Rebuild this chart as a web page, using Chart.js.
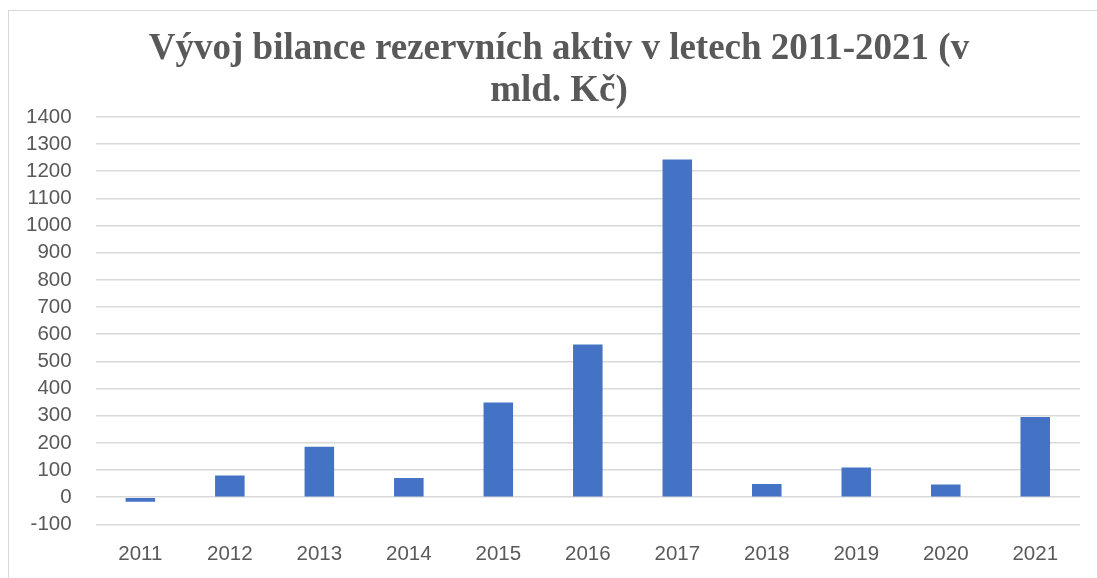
<!DOCTYPE html>
<html>
<head>
<meta charset="utf-8">
<script src="https://cdn.jsdelivr.net/npm/chart.js@4"></script>
<style>
  html, body { margin: 0; padding: 0; background: #fff; }
  #wrap { position: relative; width: 1097px; height: 578px; overflow: hidden; }
  #frame { position: absolute; left: 8px; top: 10px; width: 1200px; height: 700px;
           border: 1.5px solid #d9d9d9; box-sizing: border-box; }
  canvas { position: absolute; left: 0; top: 0; }
</style>
</head>
<body>
<div id="wrap">
  <div id="frame"></div>
  <canvas id="chart" width="1097" height="578"></canvas>
</div>
<script>
// Data
const years = ['2011', '2012', '2013', '2014', '2015', '2016', '2017', '2018', '2019', '2020', '2021'];
const bilance = [-17, 80, 186, 71, 349, 562, 1243, 49, 109, 47, 295];
const titleLines = ['Vývoj bilance rezervních aktiv v letech 2011-2021 (v', 'mld. Kč)'];

// posun titulku doprava (v originálu je vycentrovaný na celou plochu grafu)
const shiftTitle = {
    id: 'shiftTitle',
    afterLayout(chart) {
        if (chart.titleBlock) {
            chart.titleBlock.left += 18;
            chart.titleBlock.right += 18;
        }
    }
};

const ctx = document.getElementById('chart').getContext('2d');
new Chart(ctx, {
    type: 'bar',
    data: {
        labels: years,
        datasets: [{
            label: 'Bilance',
            data: bilance,
            backgroundColor: '#4472C4',
            barPercentage: 0.33,
            categoryPercentage: 1
        }]
    },
    plugins: [shiftTitle],
    options: {
        responsive: false,
        animation: false,
        layout: { padding: { left: 2, right: 17, top: 10, bottom: -7 } },
        plugins: {
            legend: { display: false },
            tooltip: { enabled: false },
            title: {
                display: true,
                text: titleLines,
                color: '#595959',
                font: { family: '"Liberation Serif", "Times New Roman", serif', size: 37, weight: 'bold', lineHeight: 1.12 },
                padding: { top: 19, bottom: 5 }
            }
        },
        scales: {
            x: {
                grid: { display: false, drawTicks: false },
                border: { display: false },
                ticks: {
                    color: '#595959',
                    font: { family: '"Liberation Sans", Arial, sans-serif', size: 20.5 },
                    padding: 18,
                    maxRotation: 0,
                    autoSkip: false
                }
            },
            y: {
                min: -100,
                max: 1400,
                grid: { color: '#d9d9d9', lineWidth: 1.5, drawTicks: false },
                border: { display: false },
                ticks: {
                    stepSize: 100,
                    autoSkip: false,
                    color: '#595959',
                    font: { family: '"Liberation Sans", Arial, sans-serif', size: 20.5 },
                    padding: 24,
                    callback: v => String(v)
                }
            }
        }
    }
});
</script>
</body>
</html>
